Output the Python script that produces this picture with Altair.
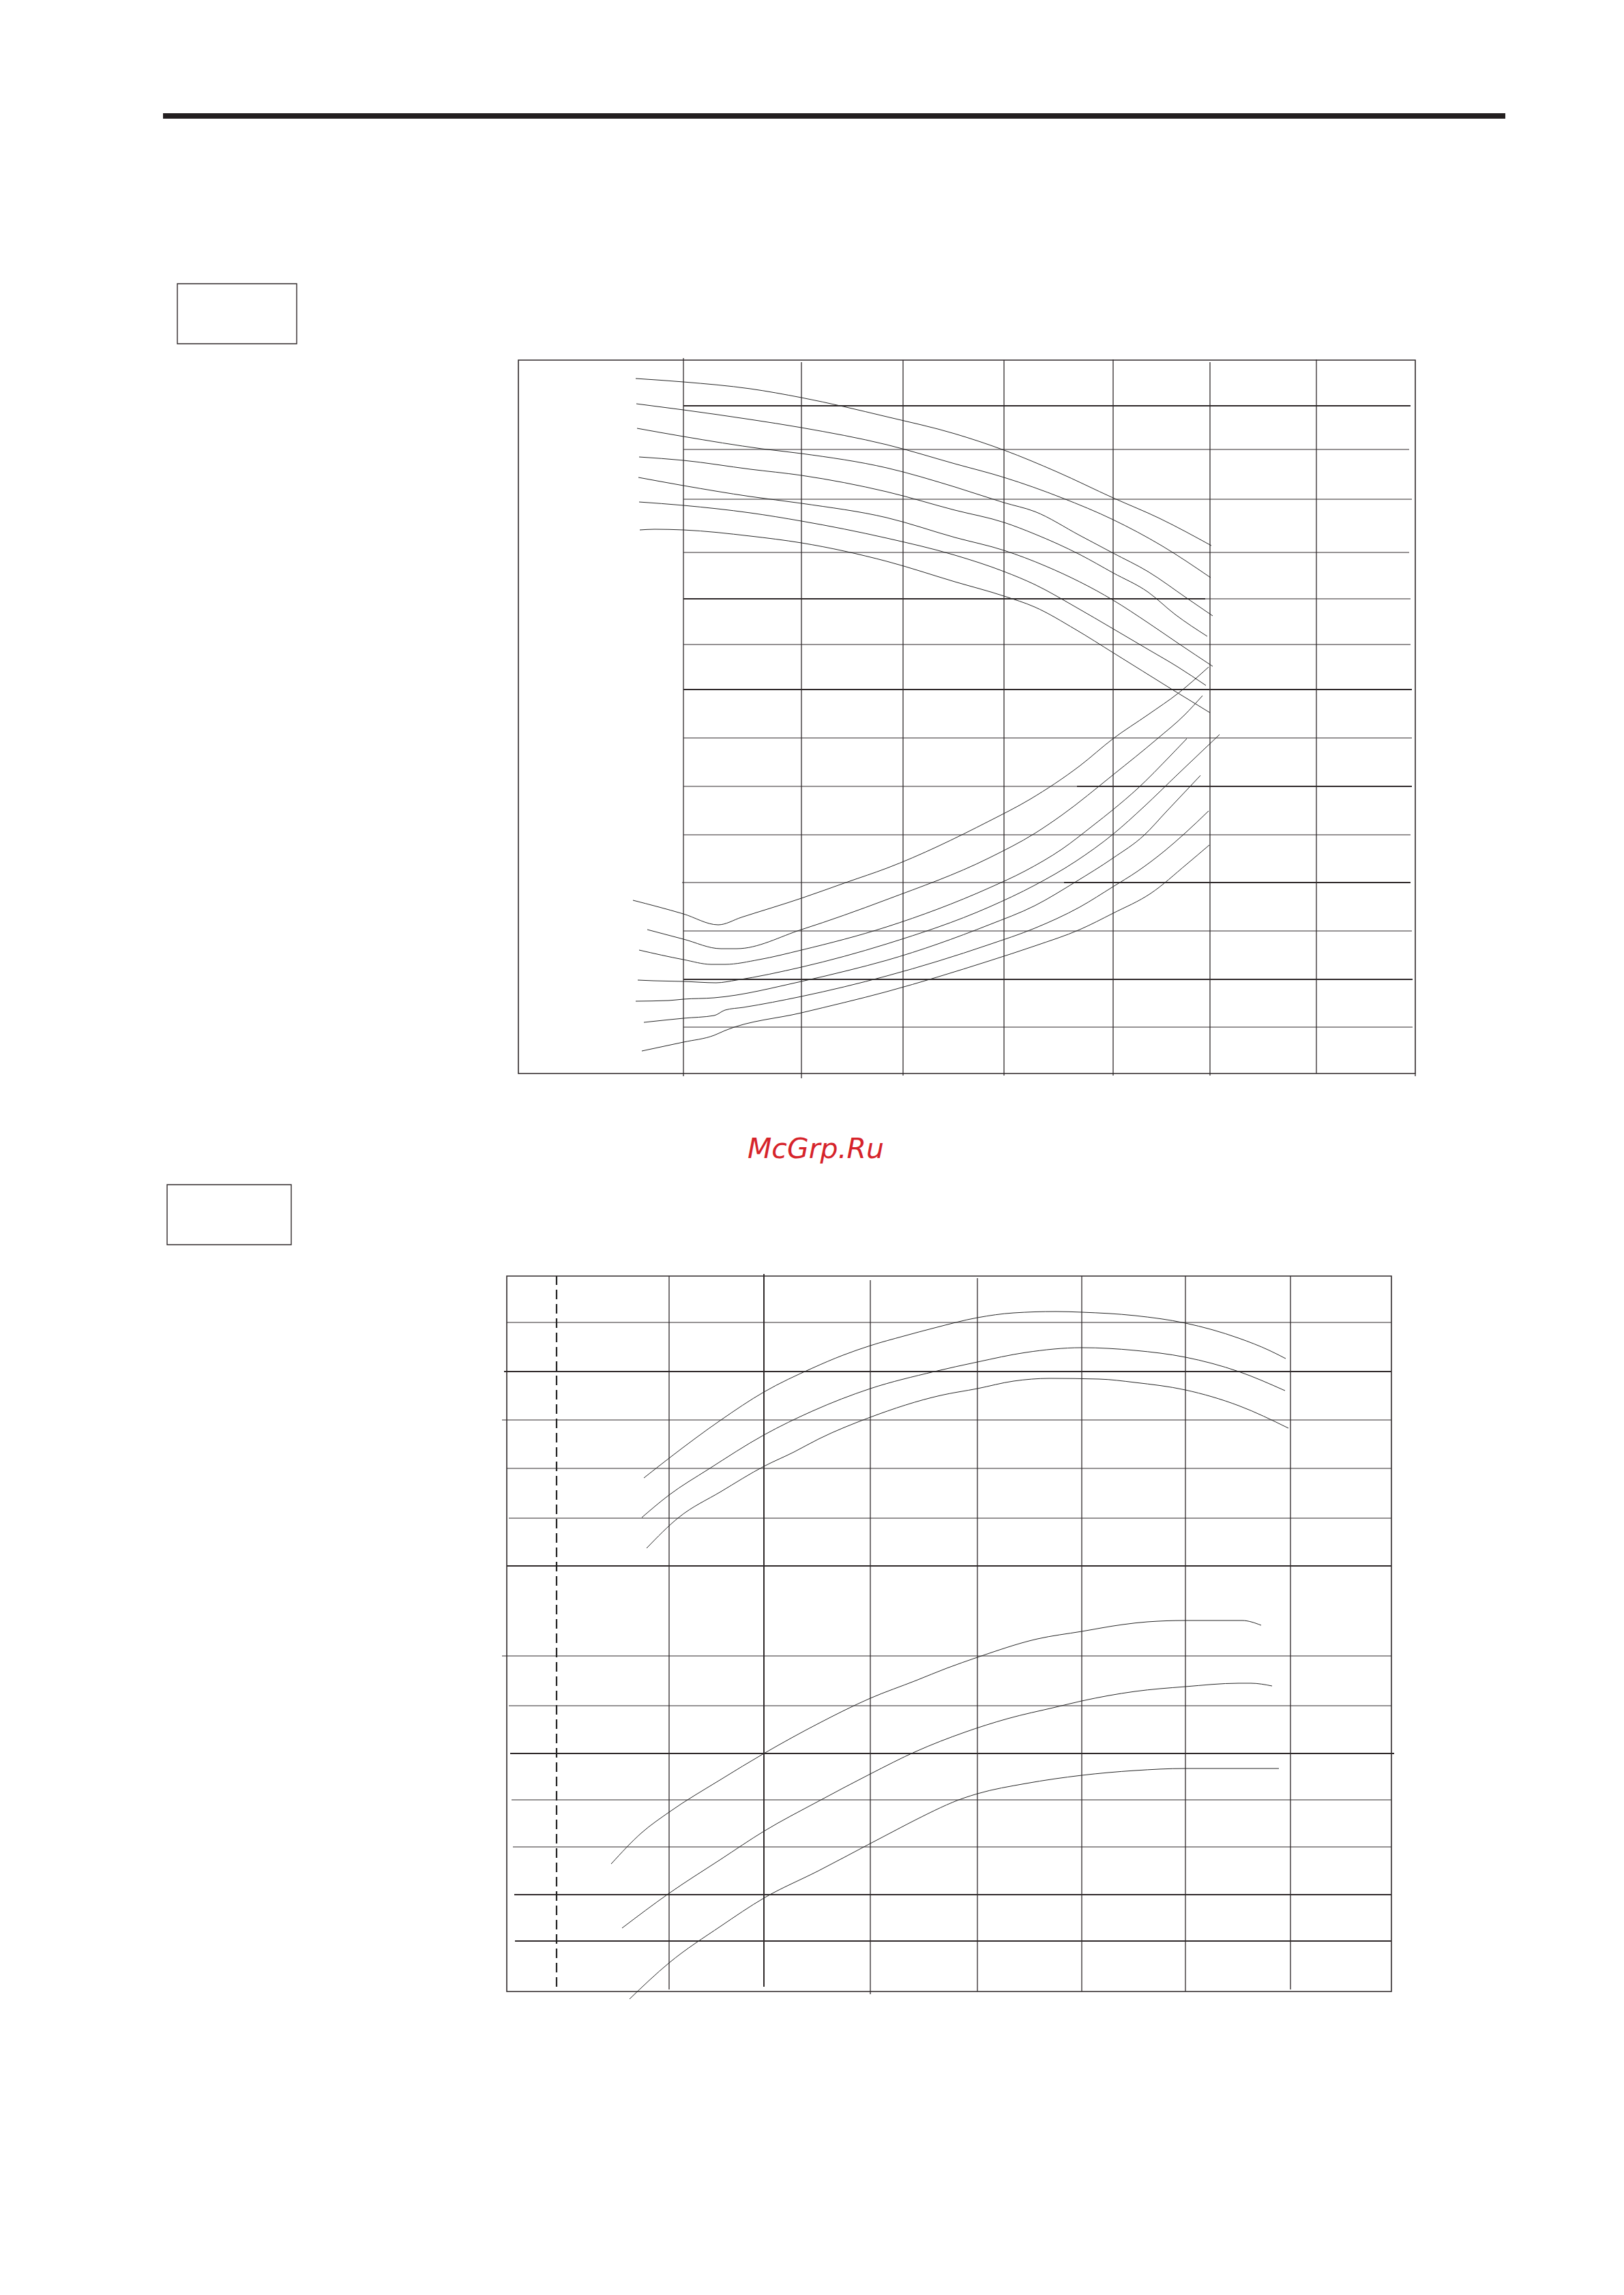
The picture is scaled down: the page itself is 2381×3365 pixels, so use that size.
import altair as alt
import pandas as pd

# ================= upper chart (units: frame 0-131.5 x 0-104.6) =================
up_frame = [0.0, 131.5, 0.0, 104.6]
up_vx = [24.2, 41.5, 56.4, 71.2, 87.2, 101.4, 117.0, 131.5]
up_vy1 = [-0.4, -0.7, -0.3, -0.3, -0.3, -0.3, 0.0, -0.4]
up_vy2 = [104.9, 104.3, 104.6, 104.6, 104.7, 104.3, 104.7, 0.0]
up_hy = [97.9, 91.5, 84.2, 76.4, 69.6, 62.9, 56.3, 49.2, 42.1, 35.0, 28.0, 20.9, 13.8, 6.8]
up_hx1 = [24.2, 24.2, 24.2, 24.2, 24.2, 24.2, 24.2, 24.2, 24.2, 24.2, 24.0, 24.2, 24.2, 24.2]
up_hx2 = [130.8, 130.6, 131.0, 130.6, 130.8, 130.8, 131.0, 131.0, 131.0, 130.8, 130.8, 131.0, 131.1, 131.1]
up_heavy_y = [97.9, 69.6, 56.3, 42.1, 28.0, 13.8]
up_heavy_x1 = [24.2, 24.2, 24.2, 81.9, 80.0, 24.2]
up_heavy_x2 = [130.8, 100.7, 131.0, 131.0, 130.8, 131.1]

up_t1 = [(17.2, 101.9), (24.2, 101.4), (34.0, 100.4), (41.5, 99.1), (54.0, 96.3), (64.0, 93.8),
         (71.2, 91.4), (79.0, 88.2), (87.2, 84.4), (94.0, 81.4), (101.6, 77.4)]
up_t2 = [(17.3, 98.2), (24.2, 97.3), (34.0, 95.9), (41.5, 94.7), (54.0, 92.2), (64.0, 89.4),
         (71.2, 87.4), (79.7, 84.4), (87.2, 81.2), (94.3, 77.4), (101.5, 72.7)]
up_t3 = [(17.4, 94.6), (24.2, 93.4), (35.7, 91.6), (41.5, 90.9), (54.0, 88.8), (64.0, 86.0),
         (71.2, 83.7), (75.7, 82.4), (82.3, 78.9), (87.2, 76.3), (92.3, 73.6), (98.0, 69.7), (101.8, 67.1)]
up_t4 = [(17.7, 90.4), (24.2, 89.9), (34.0, 88.6), (41.5, 87.7), (54.0, 85.3), (64.0, 82.6),
         (71.2, 80.8), (75.7, 79.1), (82.3, 76.1), (87.2, 73.4), (92.3, 70.6), (96.3, 67.3), (101.0, 64.1)]
up_t5 = [(17.6, 87.4), (24.2, 86.2), (34.0, 84.6), (41.5, 83.6), (54.0, 81.5), (64.0, 78.6),
         (71.2, 76.7), (77.3, 74.4), (87.2, 69.4), (92.3, 66.1), (96.7, 63.1), (101.8, 59.7)]
up_t6 = [(17.7, 83.8), (24.2, 83.3), (34.0, 82.2), (41.5, 81.0), (54.0, 78.5), (64.0, 76.0),
         (71.2, 73.6), (75.7, 71.7), (81.7, 68.4), (87.2, 65.2), (92.3, 62.2), (96.7, 59.6), (100.8, 56.9)]
up_t7 = [(17.8, 79.7), (20.0, 79.8), (24.2, 79.7), (34.0, 78.8), (41.5, 77.8), (54.0, 75.1),
         (64.0, 72.1), (71.2, 70.0), (75.7, 68.4), (81.7, 65.1), (87.2, 61.7), (95.7, 56.4), (101.4, 52.9)]

up_b1 = [(16.8, 25.4), (24.2, 23.4), (29.3, 21.8), (32.7, 22.9), (41.5, 25.7), (48.3, 28.1), (54.0, 30.1),
         (69.0, 37.0), (75.0, 40.2), (82.3, 45.1), (87.2, 49.1), (92.3, 52.6), (96.8, 55.8), (101.2, 59.6)]
up_b2 = [(18.9, 21.1), (24.2, 19.7), (29.7, 18.3), (32.0, 18.3), (41.5, 21.1), (54.0, 25.5), (69.0, 31.6),
         (75.7, 35.2), (79.7, 37.9), (87.2, 43.8), (93.7, 49.1), (97.7, 52.6), (100.3, 55.4)]
up_b3 = [(17.7, 18.1), (24.2, 16.7), (28.3, 16.0), (30.3, 16.0), (35.3, 16.7), (41.5, 18.1), (54.0, 21.5),
         (69.0, 27.2), (74.3, 29.7), (79.7, 32.9), (84.3, 36.4), (87.2, 38.7), (90.7, 41.7), (95.7, 46.7), (98.0, 49.1)]
up_b4 = [(17.5, 13.7), (19.8, 13.6), (24.2, 13.5), (29.0, 13.3), (32.0, 13.7), (41.5, 15.6), (54.0, 19.0),
         (69.0, 24.4), (75.7, 27.6), (81.7, 31.1), (87.2, 35.1), (91.7, 39.1), (96.7, 43.9), (102.8, 49.7)]
up_b5 = [(17.2, 10.6), (22.0, 10.7), (24.2, 10.9), (28.7, 11.1), (41.5, 13.5), (48.3, 15.1), (54.0, 16.6),
         (69.0, 21.8), (75.7, 24.6), (81.7, 28.1), (87.2, 31.6), (91.7, 34.9), (95.0, 38.4), (100.0, 43.7)]
up_b6 = [(18.4, 7.5), (24.2, 8.1), (28.7, 8.5), (30.3, 9.3), (33.0, 9.7), (41.5, 11.3), (54.0, 14.3),
         (69.0, 18.9), (75.7, 21.3), (82.3, 24.4), (87.2, 27.4), (90.7, 29.6), (94.7, 32.6), (97.7, 35.2), (101.2, 38.5)]
up_b7 = [(18.1, 3.3), (24.2, 4.6), (28.7, 5.6), (30.3, 6.3), (41.5, 8.9), (54.0, 12.0), (69.0, 16.5),
         (75.7, 18.7), (82.3, 21.1), (87.2, 23.5), (92.7, 26.4), (98.0, 30.7), (101.3, 33.5)]

# ================= lower chart (units: frame 0-129.7 x 0-104.9) =================
lo_frame = [0.0, 129.7, 0.0, 104.9]
lo_dash_x = [7.3]
lo_dash_y = [0.7, 104.9]
lo_vx = [23.8, 37.7, 53.3, 69.0, 84.3, 99.5, 114.9]
lo_vy1 = [0.3, 0.7, -0.4, 0.0, 0.0, 0.0, 0.3]
lo_vy2 = [104.9, 105.2, 104.3, 104.6, 104.9, 104.9, 104.9]
lo_hy = [98.1, 90.9, 83.8, 76.7, 69.4, 62.4, 49.2, 41.9, 34.9, 28.1, 21.2, 14.2, 7.4]
lo_hx1 = [0.0, -0.4, -0.7, 0.0, 0.3, 0.0, -0.7, 0.3, 0.5, 0.7, 0.9, 1.1, 1.2]
lo_hx2 = [129.7, 129.7, 129.7, 129.7, 129.7, 129.7, 129.7, 129.7, 130.1, 129.7, 129.7, 129.7, 129.7]
lo_heavy_y = [90.9, 62.4, 34.9, 14.2, 7.4]
lo_heavy_x1 = [-0.4, 0.0, 0.5, 1.1, 1.2]
lo_heavy_x2 = [129.7, 129.7, 130.1, 129.7, 129.7]

lo_u1 = [(20.1, 75.3), (23.8, 78.2), (31.4, 83.8), (37.7, 87.9), (44.8, 91.4), (49.3, 93.3), (53.3, 94.7),
         (58.2, 96.1), (62.7, 97.3), (69.0, 98.8), (74.3, 99.5), (80.5, 99.7), (84.3, 99.6), (92.1, 99.1),
         (99.5, 98.0), (107.3, 95.8), (111.8, 94.0), (114.2, 92.8)]
lo_u2 = [(19.8, 69.5), (23.8, 72.8), (29.6, 76.6), (37.7, 81.6), (44.8, 85.1), (53.3, 88.4), (62.7, 90.9),
         (69.0, 92.3), (76.1, 93.7), (84.3, 94.4), (92.1, 94.0), (99.5, 93.0), (107.3, 90.9), (114.1, 88.1)]
lo_u3 = [(20.5, 65.0), (25.2, 69.5), (31.4, 73.3), (37.7, 77.0), (42.1, 79.1), (45.7, 81.0), (53.3, 84.2),
         (63.6, 87.4), (69.0, 88.4), (74.3, 89.5), (79.6, 89.9), (86.8, 89.8), (92.1, 89.3), (99.5, 88.2),
         (107.3, 85.9), (114.6, 82.6)]
lo_l1 = [(15.3, 18.7), (19.8, 23.3), (23.8, 26.3), (31.4, 31.1), (37.7, 34.9), (45.7, 39.3), (53.3, 43.0),
         (60.0, 45.6), (64.5, 47.4), (69.0, 49.0), (77.8, 51.7), (84.3, 52.8), (90.3, 53.8), (93.9, 54.2),
         (99.5, 54.4), (107.8, 54.4), (110.6, 53.7)]
lo_l2 = [(16.9, 9.3), (23.8, 14.4), (31.4, 19.4), (37.7, 23.5), (45.7, 27.9), (53.3, 31.9), (60.0, 35.2),
         (67.1, 38.0), (73.4, 40.0), (80.5, 41.7), (84.3, 42.6), (92.1, 44.0), (99.5, 44.7), (107.3, 45.2),
         (109.1, 45.2), (112.2, 44.8)]
lo_l3 = [(18.0, -1.1), (23.8, 4.2), (31.4, 9.6), (37.7, 13.7), (45.7, 17.7), (53.3, 21.7), (57.3, 23.8),
         (60.0, 25.2), (67.1, 28.4), (69.0, 29.0), (76.1, 30.5), (84.3, 31.7), (92.1, 32.4), (99.5, 32.7),
         (113.2, 32.7)]

# ================= page furniture (page units) =================
page_bar = [239, 2207, 166, 174]
box_x1 = [260, 245]
box_x2 = [435, 427]
box_y1 = [416, 1737]
box_y2 = [504, 1825]
watermark = ["McGrp.Ru"]
watermark_xy = [1196, 1698]

# ----------------------------------------------------------------
INK = "#2f292a"
CURVE = "#262626"

UP_X = alt.Scale(domain=[0, 131.5], range=[752, 2067], nice=False, zero=False)
UP_Y = alt.Scale(domain=[0, 104.6], range=[1566, 520], nice=False, zero=False)
LO_X = alt.Scale(domain=[0, 129.7], range=[735, 2032], nice=False, zero=False)
LO_Y = alt.Scale(domain=[0, 104.9], range=[2912, 1863], nice=False, zero=False)
PG_X = alt.Scale(domain=[0, 2381], range=[-8, 2373], nice=False, zero=False)
PG_Y = alt.Scale(domain=[0, 3365], range=[-8, 3357], nice=False, zero=False)


def curves_df(named):
    rows = []
    for name, pts in named.items():
        for i, (x, y) in enumerate(pts):
            rows.append({"s": name, "i": i, "x": x, "y": y})
    return pd.DataFrame(rows)


def panel_layers(xs, ys, frame, vx, vy1, vy2, hy, hx1, hx2, hvy, hvx1, hvx2, curves, vwidth=None):
    L = []
    fr = pd.DataFrame({"x1": [frame[0]], "x2": [frame[1]], "y1": [frame[2]], "y2": [frame[3]]})
    L.append(alt.Chart(fr).mark_rect(fillOpacity=0, stroke=INK, strokeWidth=1.6).encode(
        x=alt.X("x1:Q", scale=xs, axis=None), x2="x2:Q",
        y=alt.Y("y1:Q", scale=ys, axis=None), y2="y2:Q"))
    vdf = pd.DataFrame({"x": vx, "y1": vy1, "y2": vy2})
    vdf["w"] = vwidth if vwidth is not None else 1.3
    L.append(alt.Chart(vdf).mark_rule(color=INK).encode(
        x=alt.X("x:Q", scale=xs, axis=None),
        y=alt.Y("y1:Q", scale=ys, axis=None), y2="y2:Q",
        strokeWidth=alt.StrokeWidth("w:Q", scale=None, legend=None)))
    hdf = pd.DataFrame({"y": hy, "x1": hx1, "x2": hx2})
    L.append(alt.Chart(hdf).mark_rule(color=INK, strokeWidth=1.2).encode(
        x=alt.X("x1:Q", scale=xs, axis=None), x2="x2:Q",
        y=alt.Y("y:Q", scale=ys, axis=None)))
    hv = pd.DataFrame({"y": hvy, "x1": hvx1, "x2": hvx2})
    L.append(alt.Chart(hv).mark_rule(color=INK, strokeWidth=2.2).encode(
        x=alt.X("x1:Q", scale=xs, axis=None), x2="x2:Q",
        y=alt.Y("y:Q", scale=ys, axis=None)))
    cdf = curves_df(curves)
    L.append(alt.Chart(cdf).mark_line(color=CURVE, strokeWidth=1.0, interpolate="monotone").encode(
        x=alt.X("x:Q", scale=xs, axis=None),
        y=alt.Y("y:Q", scale=ys, axis=None),
        detail="s:N", order="i:Q"))
    return L


layers = []
layers += panel_layers(UP_X, UP_Y, up_frame, up_vx, up_vy1, up_vy2, up_hy, up_hx1, up_hx2,
                       up_heavy_y, up_heavy_x1, up_heavy_x2,
                       {"t1": up_t1, "t2": up_t2, "t3": up_t3, "t4": up_t4, "t5": up_t5, "t6": up_t6,
                        "t7": up_t7, "b1": up_b1, "b2": up_b2, "b3": up_b3, "b4": up_b4, "b5": up_b5,
                        "b6": up_b6, "b7": up_b7})
lo_w = [1.3, 2.0, 1.3, 1.3, 1.3, 1.3, 1.3]
layers += panel_layers(LO_X, LO_Y, lo_frame, lo_vx, lo_vy1, lo_vy2, lo_hy, lo_hx1, lo_hx2,
                       lo_heavy_y, lo_heavy_x1, lo_heavy_x2,
                       {"u1": lo_u1, "u2": lo_u2, "u3": lo_u3, "l1": lo_l1, "l2": lo_l2, "l3": lo_l3},
                       vwidth=lo_w)

dash = pd.DataFrame({"x": lo_dash_x, "y1": [lo_dash_y[0]], "y2": [lo_dash_y[1]]})
layers.append(alt.Chart(dash).mark_rule(color="#222222", strokeWidth=2.2, strokeDash=[14, 7]).encode(
    x=alt.X("x:Q", scale=LO_X, axis=None),
    y=alt.Y("y1:Q", scale=LO_Y, axis=None), y2="y2:Q"))

bar = pd.DataFrame({"x1": [page_bar[0]], "x2": [page_bar[1]], "y1": [page_bar[2]], "y2": [page_bar[3]]})
layers.append(alt.Chart(bar).mark_rect(color="#231f20").encode(
    x=alt.X("x1:Q", scale=PG_X, axis=None), x2="x2:Q",
    y=alt.Y("y1:Q", scale=PG_Y, axis=None), y2="y2:Q"))

boxes = pd.DataFrame({"x1": box_x1, "x2": box_x2, "y1": box_y1, "y2": box_y2})
layers.append(alt.Chart(boxes).mark_rect(fillOpacity=0, stroke="#2f292a", strokeWidth=1.4).encode(
    x=alt.X("x1:Q", scale=PG_X, axis=None), x2="x2:Q",
    y=alt.Y("y1:Q", scale=PG_Y, axis=None), y2="y2:Q"))

wm = pd.DataFrame({"t": watermark, "x": [watermark_xy[0]], "y": [watermark_xy[1]]})
layers.append(alt.Chart(wm).mark_text(font="DejaVu Sans", fontStyle="italic", fontSize=41,
                                      color="#d6232a", align="center", baseline="alphabetic").encode(
    x=alt.X("x:Q", scale=PG_X, axis=None),
    y=alt.Y("y:Q", scale=PG_Y, axis=None),
    text="t:N"))

chart = alt.layer(*layers).resolve_scale(x="independent", y="independent").properties(
    width=2365, height=3340, padding=0, autosize="none", background="white"
).configure_view(strokeWidth=0)

chart.save("out.html", embed_options={"renderer": "svg", "actions": False})
